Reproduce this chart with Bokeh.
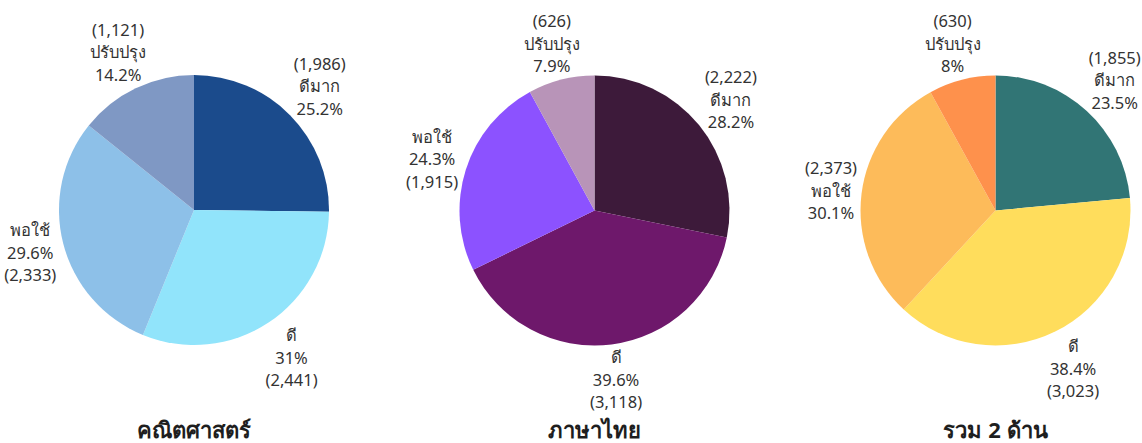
import math
from bokeh.plotting import figure
from bokeh.models import Range1d, ColumnDataSource
from bokeh.core.properties import value
from bokeh.embed import file_html
from bokeh.resources import INLINE

# ---- data ----
categories = ["ดีมาก", "ดี", "พอใช้", "ปรับปรุง"]
titles = ["คณิตศาสตร์", "ภาษาไทย", "รวม 2 ด้าน"]
math_counts = [1986, 2441, 2333, 1121]
thai_counts = [2222, 3118, 1915, 626]
total_counts = [1855, 3023, 2373, 630]
math_colors = ["#1b4b8c", "#91e4fb", "#8dc0e8", "#7f98c4"]
thai_colors = ["#3d1a3a", "#6e186b", "#8c52ff", "#b894b8"]
total_colors = ["#317575", "#ffdd5c", "#fdbb5a", "#fe914c"]
# order of the three label lines: c = count, l = label, p = percent
math_orders = ["clp", "lpc", "lpc", "clp"]
thai_orders = ["clp", "lpc", "lpc", "clp"]
total_orders = ["clp", "lpc", "clp", "clp"]

series = [
    (math_counts, math_colors, math_orders),
    (thai_counts, thai_colors, thai_orders),
    (total_counts, total_colors, total_orders),
]

# ---- layout (pixels of the page) ----
W, H = 1142, 443
centers = [(193.5, 209.5), (594, 210), (995, 210)]
R = 135
GAP = 0
HALF_W, HALF_H = 27, 32
LINE_H = 22.5
FONT = value("Noto Sans")
TXT = "#333333"


def y_of(Y):  # page Y (downwards) -> data y (upwards)
    return H - Y


p = figure(width=W, height=H, output_backend="svg", toolbar_location=None,
           x_range=Range1d(0, W), y_range=Range1d(0, H), min_border=0)
p.axis.visible = False
p.grid.visible = False
p.outline_line_color = None
p.background_fill_color = "white"
p.border_fill_color = "white"


def fmt_pct(v):
    s = f"{v:.1f}"
    if s.endswith(".0"):
        s = s[:-2]
    return s + "%"


for (counts, colors, orders), (cx, cY), title in zip(series, centers, titles):
    total = sum(counts)
    starts, ends, mids = [], [], []
    cum = 0
    for c in counts:
        a0 = math.pi / 2 - 2 * math.pi * cum / total
        cum += c
        a1 = math.pi / 2 - 2 * math.pi * cum / total
        starts.append(a0)
        ends.append(a1)
        mids.append((a0 + a1) / 2)
    src = ColumnDataSource(dict(x=[cx] * 4, y=[y_of(cY)] * 4, start=starts,
                                end=ends, color=colors))
    p.wedge(x="x", y="y", radius=R, radius_units="screen", start_angle="start",
            end_angle="end", direction="clock", fill_color="color",
            line_color=None, source=src)

    lx, ly, lt = [], [], []
    for cat, c, m, order in zip(categories, counts, mids, orders):
        ux, uy = math.cos(m), math.sin(m)
        d = R + GAP + HALF_W * abs(ux) + HALF_H * abs(uy)
        bx = cx + d * ux
        by = y_of(cY) + d * uy
        pieces = {"c": f"({c:,})", "l": cat, "p": fmt_pct(100 * c / total)}
        for i, k in enumerate(order):
            lx.append(bx)
            ly.append(by + (1 - i) * LINE_H)
            lt.append(pieces[k])
    p.text(x=lx, y=ly, text=lt, text_align="center", text_baseline="middle",
           text_font=FONT, text_font_size="16.5px", text_color=TXT)

    p.text(x=[cx], y=[y_of(428)], text=[title], text_align="center",
           text_baseline="middle", text_font=FONT, text_font_size="22px",
           text_font_style="bold", text_color="#1e1e1e")

open("out.html", "w").write(file_html(p, INLINE))
